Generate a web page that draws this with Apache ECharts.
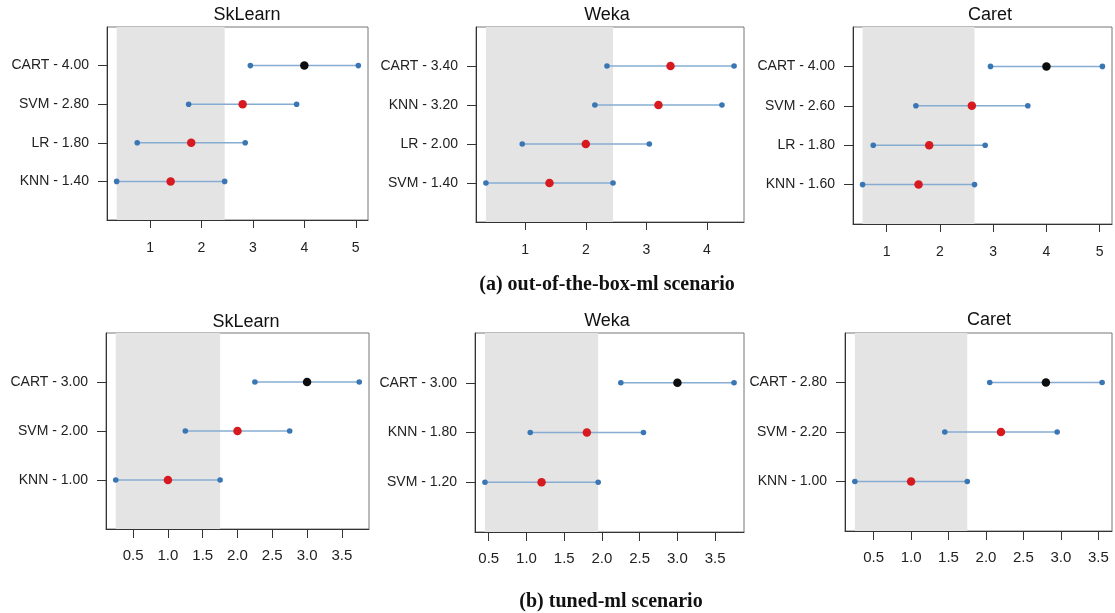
<!DOCTYPE html>
<html>
<head>
<meta charset="utf-8">
<script src="https://cdn.jsdelivr.net/npm/echarts@6/dist/echarts.min.js"></script>
<style>
html,body{margin:0;padding:0;background:#fff;}
#chart{width:1115px;height:613px;}
</style>
</head>
<body>
<div id="chart"></div>
<script>
// ---- data ----
const topSkModels = ['CART', 'SVM', 'LR', 'KNN'];
const topSkRanks = [4.00, 2.80, 1.80, 1.40];
const topWekaModels = ['CART', 'KNN', 'LR', 'SVM'];
const topWekaRanks = [3.40, 3.20, 2.00, 1.40];
const topCaretModels = ['CART', 'SVM', 'LR', 'KNN'];
const topCaretRanks = [4.00, 2.60, 1.80, 1.60];
const topHalfCD = 1.05;
const topTicks15 = [1, 2, 3, 4, 5];
const topTicks14 = [1, 2, 3, 4];

const botSkModels = ['CART', 'SVM', 'KNN'];
const botSkRanks = [3.00, 2.00, 1.00];
const botWekaModels = ['CART', 'KNN', 'SVM'];
const botWekaRanks = [3.00, 1.80, 1.20];
const botCaretModels = ['CART', 'SVM', 'KNN'];
const botCaretRanks = [2.80, 2.20, 1.00];
const botHalfCD = 0.75;
const botTicks = [0.5, 1.0, 1.5, 2.0, 2.5, 3.0, 3.5];

const panelTitles = ['SkLearn', 'Weka', 'Caret', 'SkLearn', 'Weka', 'Caret'];
const captionA = '(a) out-of-the-box-ml scenario';
const captionB = '(b) tuned-ml scenario';

// ---- layout ----
const TOPX = {font: 14, margin: 21, tick: 8};
const BOTX = {font: 15, margin: 19, tick: 9};
const panels = [
  {models: topSkModels, ranks: topSkRanks, half: topHalfCD, ticks: topTicks15, dec: 0, xs: TOPX,
   grid: {left: 107, top: 27, width: 261, height: 193}, title: [247, 15]},
  {models: topWekaModels, ranks: topWekaRanks, half: topHalfCD, ticks: topTicks14, dec: 0, xs: TOPX,
   grid: {left: 476, top: 27, width: 268, height: 195}, title: [607, 15]},
  {models: topCaretModels, ranks: topCaretRanks, half: topHalfCD, ticks: topTicks15, dec: 0, xs: TOPX,
   grid: {left: 853, top: 27, width: 259, height: 197}, title: [990, 15]},
  {models: botSkModels, ranks: botSkRanks, half: botHalfCD, ticks: botTicks, dec: 1, xs: BOTX,
   grid: {left: 106, top: 333, width: 263, height: 196}, title: [246, 322]},
  {models: botWekaModels, ranks: botWekaRanks, half: botHalfCD, ticks: botTicks, dec: 1, xs: BOTX,
   grid: {left: 475, top: 333, width: 269, height: 199}, title: [607, 321]},
  {models: botCaretModels, ranks: botCaretRanks, half: botHalfCD, ticks: botTicks, dec: 1, xs: BOTX,
   grid: {left: 845, top: 333, width: 267, height: 198}, title: [989, 320]}
];

const LABEL_FONT = '"Liberation Sans", Arial, Helvetica, sans-serif';
const SERIF_FONT = '"Liberation Serif", "Times New Roman", serif';
const grids = [], xAxes = [], yAxes = [], series = [], graphics = [];

panels.forEach((p, gi) => {
  const n = p.models.length;
  const lo = Math.min(...p.ranks) - p.half;
  const hi = Math.max(...p.ranks) + p.half;
  const ext = (hi - lo) * 0.04;
  const best = Math.min(...p.ranks);
  const bestHi = best + p.half;
  const labels = p.models.map((m, i) => m + ' - ' + p.ranks[i].toFixed(2));
  const yVals = p.models.map((m, i) => n - i);

  grids.push(Object.assign({show: true, borderColor: '#777', borderWidth: 1, backgroundColor: 'transparent'}, p.grid));
  xAxes.push({
    type: 'value', gridIndex: gi, min: lo - ext, max: hi + ext,
    splitLine: {show: false},
    axisLine: {show: true, onZero: false, lineStyle: {color: '#333', width: 1}},
    axisTick: {show: true, length: p.xs.tick, customValues: p.ticks, lineStyle: {color: '#333'}},
    axisLabel: {customValues: p.ticks, margin: p.xs.margin, color: '#222', fontSize: p.xs.font, fontFamily: LABEL_FONT,
      formatter: v => Number(v).toFixed(p.dec)}
  });
  yAxes.push({
    type: 'value', gridIndex: gi, min: 0, max: n + 1,
    splitLine: {show: false},
    axisLine: {show: true, onZero: false, lineStyle: {color: '#333', width: 1}},
    axisTick: {show: true, length: 9, customValues: yVals, lineStyle: {color: '#333'}},
    axisLabel: {customValues: yVals, margin: 18, color: '#222', fontSize: 14, fontFamily: LABEL_FONT,
      formatter: v => { const i = n - Math.round(v); return labels[i] || ''; }}
  });

  // shaded region of best model's CD interval
  series.push({
    type: 'scatter', xAxisIndex: gi, yAxisIndex: gi, data: [], silent: true, z: 1,
    markArea: {silent: true, itemStyle: {color: '#e4e4e4', opacity: 1},
      data: [[{xAxis: best - p.half}, {xAxis: bestHi}]]}
  });

  // interval lines with endpoints
  const intervalData = p.ranks.map((r, i) => [r - p.half, r + p.half, n - i]);
  series.push({
    type: 'custom', xAxisIndex: gi, yAxisIndex: gi, z: 3, silent: true,
    data: intervalData,
    renderItem: (params, api) => {
      const a = api.coord([api.value(0), api.value(2)]);
      const b = api.coord([api.value(1), api.value(2)]);
      return {type: 'group', children: [
        {type: 'line', shape: {x1: a[0], y1: a[1], x2: b[0], y2: b[1]},
          style: {stroke: '#86acd2', lineWidth: 1.5}},
        {type: 'circle', shape: {cx: a[0], cy: a[1], r: 2.8}, style: {fill: '#3a76b3'}},
        {type: 'circle', shape: {cx: b[0], cy: b[1], r: 2.8}, style: {fill: '#3a76b3'}}
      ]};
    }
  });

  // center mean-rank points
  series.push({
    type: 'scatter', xAxisIndex: gi, yAxisIndex: gi, z: 4, silent: true, symbolSize: 8.5,
    data: p.ranks.map((r, i) => ({
      value: [r, n - i],
      itemStyle: {opacity: 1, color: (r - p.half > bestHi) ? '#0d0d0d' : '#d71920'}
    }))
  });

  graphics.push({type: 'text', x: p.title[0], y: p.title[1],
    style: {text: panelTitles[gi], fill: '#111', font: '18px ' + LABEL_FONT, textAlign: 'center', textVerticalAlign: 'middle'}});
});

graphics.push({type: 'text', x: 607, y: 285,
  style: {text: captionA, fill: '#111', font: 'bold 20px ' + SERIF_FONT, textAlign: 'center', textVerticalAlign: 'middle'}});
graphics.push({type: 'text', x: 611, y: 602,
  style: {text: captionB, fill: '#111', font: 'bold 20px ' + SERIF_FONT, textAlign: 'center', textVerticalAlign: 'middle'}});

const chart = echarts.init(document.getElementById('chart'));
chart.setOption({
  animation: false,
  backgroundColor: '#fff',
  grid: grids, xAxis: xAxes, yAxis: yAxes, series: series,
  graphic: graphics
});
</script>
</body>
</html>
